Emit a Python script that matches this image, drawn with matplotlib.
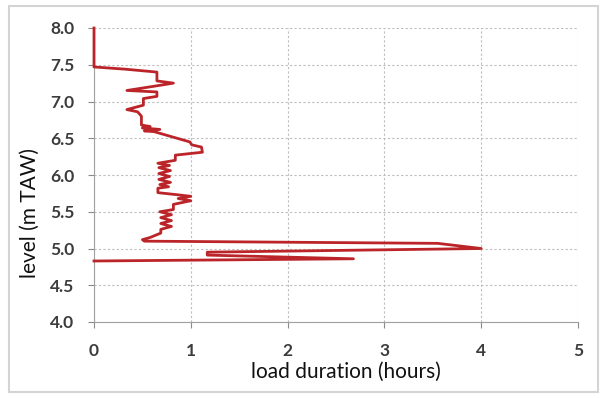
import matplotlib
matplotlib.use("Agg")
import matplotlib.pyplot as plt
from matplotlib.patches import Rectangle

# load duration (hours) vs water level (m TAW)
duration = [0.0, 0.0, 0.32, 0.65, 0.65, 0.82, 0.68, 0.34, 0.65, 0.65,
            0.51, 0.51, 0.34, 0.45, 0.49, 0.49, 0.58, 0.50, 0.68, 0.52,
            0.62, 0.99, 1.01, 1.11, 1.12, 0.84, 0.84, 0.66, 0.78, 0.67,
            0.79, 0.67, 0.78, 0.67, 0.79, 0.68, 0.77, 0.66, 0.66, 0.87,
            1.00, 0.87, 1.00, 0.82, 0.82, 0.68, 0.80, 0.69, 0.80, 0.69,
            0.80, 0.69, 0.69, 0.58, 0.50, 0.52, 3.55, 4.00, 1.17, 1.17,
            2.68, 0.0]
level = [8.00, 7.47, 7.44, 7.40, 7.28, 7.25, 7.22, 7.15, 7.13, 7.07,
         7.04, 6.95, 6.89, 6.86, 6.80, 6.68, 6.66, 6.64, 6.62, 6.60,
         6.59, 6.45, 6.41, 6.38, 6.31, 6.27, 6.20, 6.16, 6.13, 6.10,
         6.06, 6.02, 5.98, 5.94, 5.90, 5.87, 5.84, 5.82, 5.76, 5.73,
         5.71, 5.68, 5.65, 5.60, 5.53, 5.50, 5.46, 5.42, 5.38, 5.34,
         5.30, 5.26, 5.21, 5.15, 5.12, 5.10, 5.07, 5.00, 4.95, 4.91,
         4.86, 4.83]

xticks = [0, 1, 2, 3, 4, 5]
yticks = [4.0, 4.5, 5.0, 5.5, 6.0, 6.5, 7.0, 7.5, 8.0]

plt.rcParams['font.family'] = ['Lato', 'DejaVu Sans']

fig = plt.figure(figsize=(6.05, 3.98), dpi=100)
fig.patches.append(Rectangle((9 / 605, 6 / 398), 589 / 605, 386 / 398,
                             transform=fig.transFigure, fill=False,
                             edgecolor='#d4d4d4', linewidth=1.5))
ax = fig.add_axes([94 / 605, 1 - 322 / 398, 484 / 605, 294 / 398])

ax.plot(duration, level, color='#bb2529', linewidth=2.0, zorder=5, clip_on=False)

ax.set_xlim(0, 5)
ax.set_ylim(4.0, 8.0)
ax.set_xticks(xticks)
ax.set_yticks(yticks)
ax.set_xticklabels([str(t) for t in xticks])
ax.set_yticklabels(['%.1f' % t for t in yticks])
ax.tick_params(axis='both', labelsize=12.5, colors='#8a8a8a', labelcolor='#3c3c3c',
               length=4, width=0.8)
ax.tick_params(axis='x', pad=11)
ax.tick_params(axis='y', pad=10)
for lab in ax.get_xticklabels() + ax.get_yticklabels():
    lab.set_fontweight('bold')

ax.grid(True, color='#bdbdbd', linestyle=(0, (2, 2)), linewidth=0.8)
for side in ['top', 'right']:
    ax.spines[side].set_visible(False)
for side in ['left', 'bottom']:
    ax.spines[side].set_color('#a0a0a0')

ax.set_xlabel('load duration (hours)', fontsize=15, color='#111111')
ax.set_ylabel('level (m TAW)', fontsize=15, color='#111111')
ax.xaxis.set_label_coords(0.52, -0.135)
ax.yaxis.set_label_coords(-0.112, 0.37)

fig.savefig('out.png', dpi=100)
